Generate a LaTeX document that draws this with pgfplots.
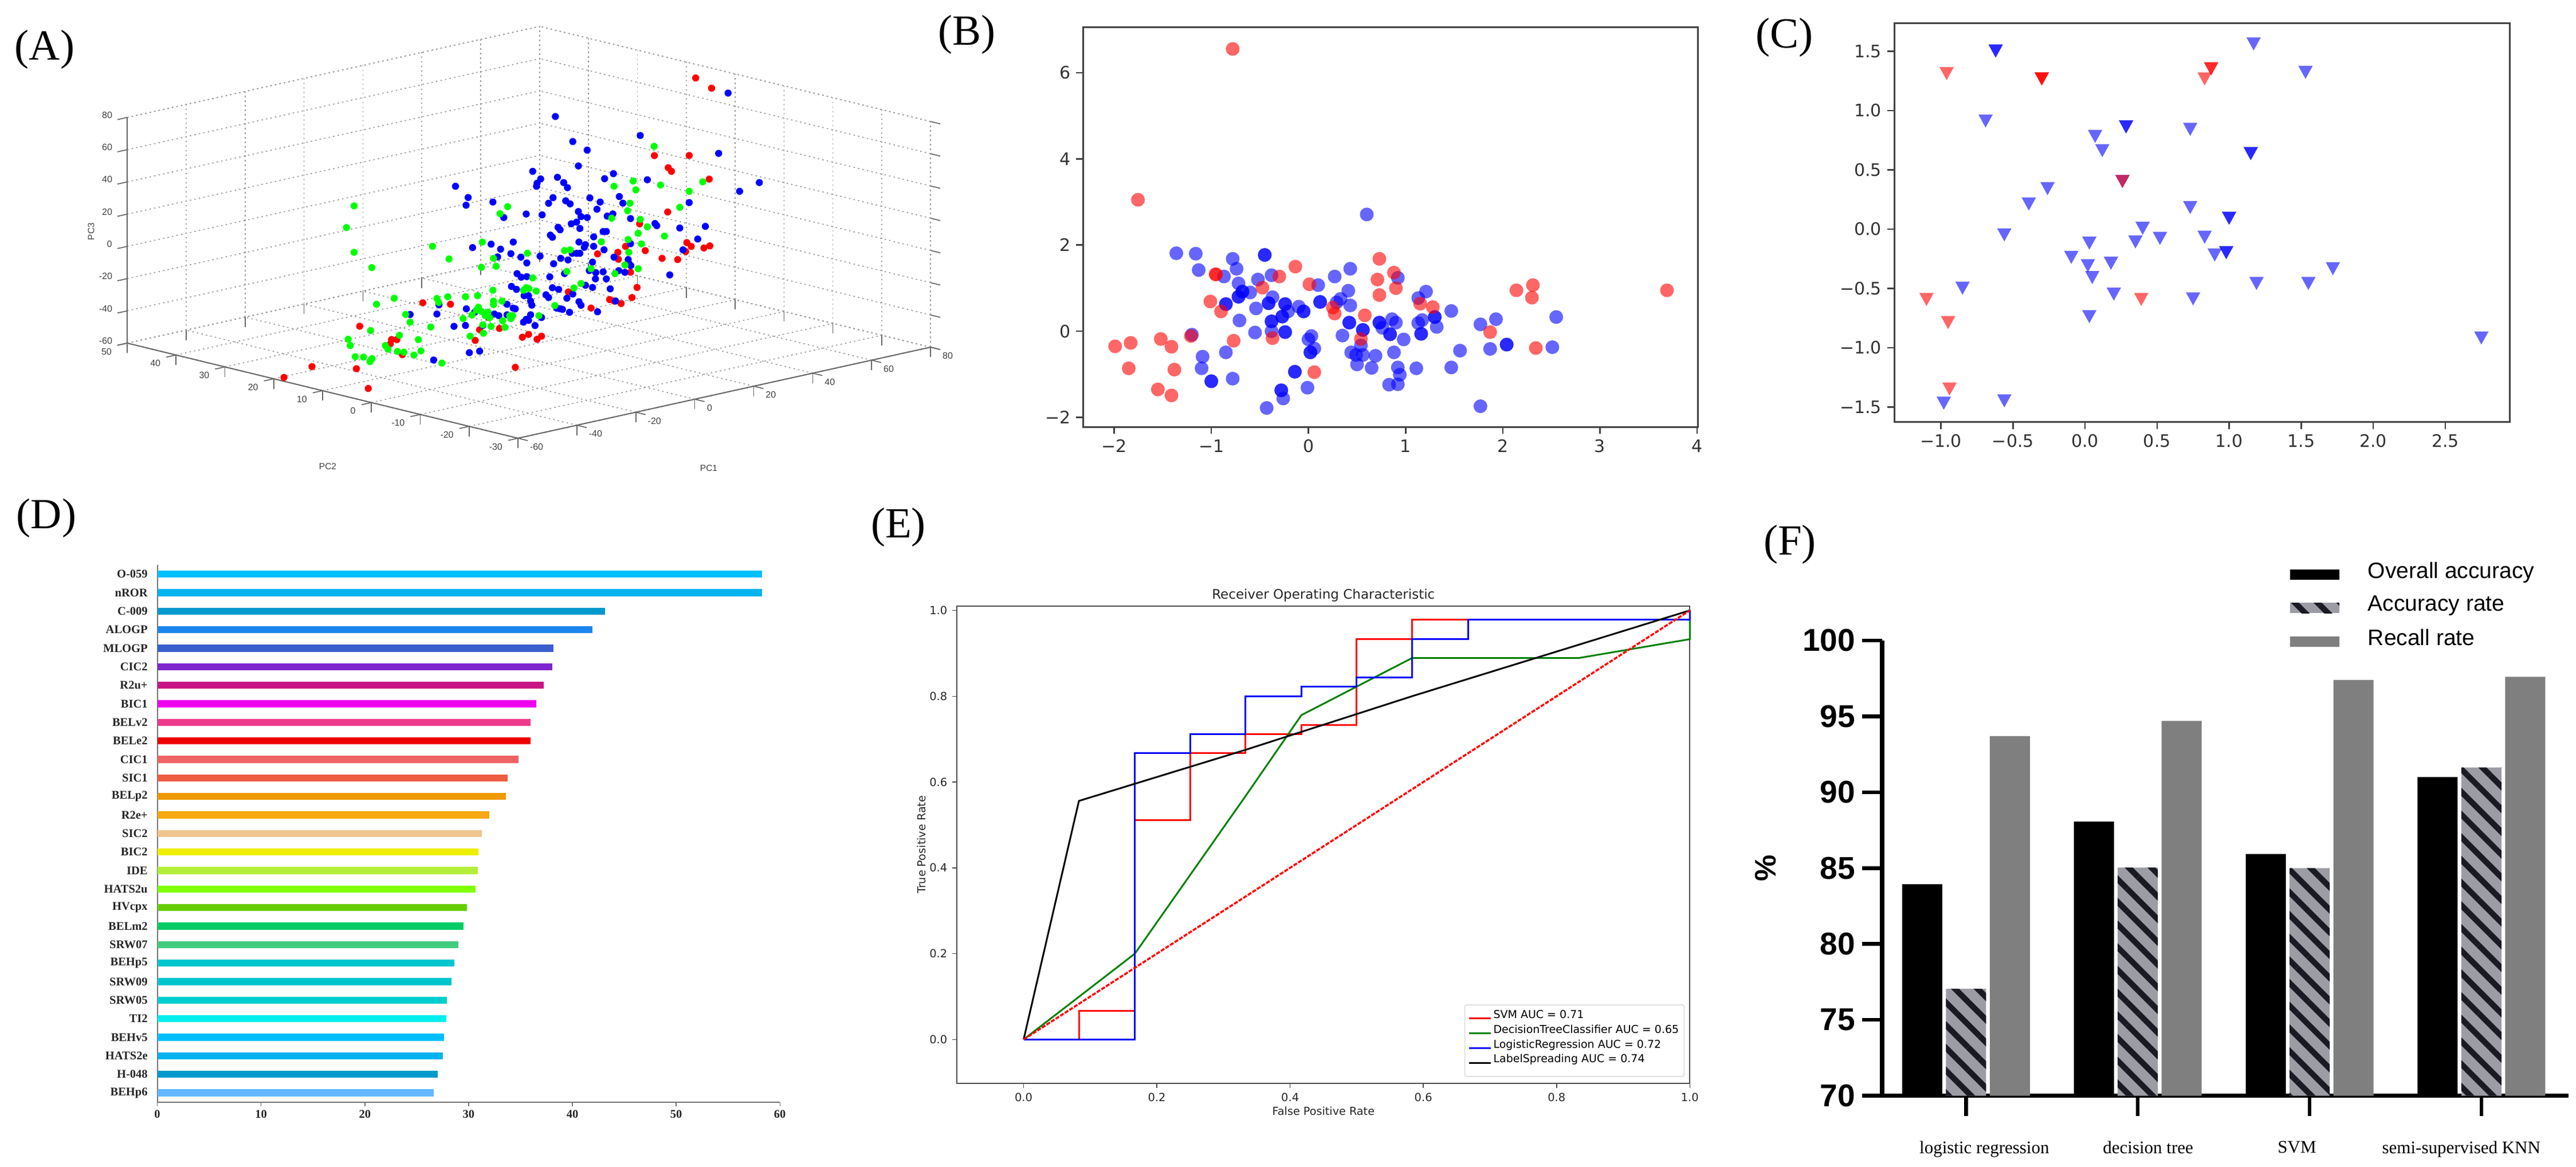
\documentclass[border=0pt]{standalone}
\usepackage{fontspec}
\usepackage{pgfplots}
\pgfplotsset{compat=1.18}
\usetikzlibrary{patterns.meta}
\setmainfont{Liberation Serif}
\newfontfamily\dv{DejaVu Sans}
\newfontfamily\ar{Liberation Sans}
\newfontfamily\tm{Liberation Serif}
\newcommand\fs[1]{\fontsize{#1}{#1}\selectfont}
% 1 px of the reference = 0.1pt here
\pgfplotsset{
  every axis/.append style={/pgf/number format/assume math mode=true},
  mplframe/.style={
    scale only axis, anchor=south west, clip=false,
    axis line style={line width=0.3pt, color=black!75},
    tick style={line width=0.25pt, color=black!75},
    major tick length=1.2pt, tick align=outside,
    xtick pos=bottom, ytick pos=left,
  },
  dots/.style={only marks, mark=*, mark size=1.2pt, color=#1,
    mark options={draw=#1, draw opacity=0, fill=#1, fill opacity=0.6}},
  tris/.style={only marks, mark=triangle*, mark size=1.45pt, color=#1,
    mark options={rotate=180, yscale=1.05, draw=#1, draw opacity=0, fill=#1, fill opacity=0.6}},
  dots3/.style={only marks, mark=*, mark size=0.62pt, color=#1,
    mark options={draw=#1, draw opacity=0, fill=#1}},
}
\newcommand\dbar[2]{\addplot[fill=#2, draw=none] coordinates {(#1)};}
\definecolor{hatchgrey}{HTML}{9C9CA5}
\definecolor{barstripe}{HTML}{1A1A24}
\definecolor{fgrey}{HTML}{7F7F7F}
\definecolor{da}{HTML}{63B8FF}\definecolor{db}{HTML}{009ACD}\definecolor{dc}{HTML}{00B2EE}
\definecolor{dd}{HTML}{00BFFF}\definecolor{de}{HTML}{00EEEE}\definecolor{df}{HTML}{00CDCD}
\definecolor{dg}{HTML}{00C5CD}\definecolor{dh}{HTML}{00C5CD}\definecolor{di}{HTML}{43CD80}
\definecolor{dj}{HTML}{00CD66}\definecolor{dk}{HTML}{66CD00}\definecolor{dl}{HTML}{7FFF00}
\definecolor{dm}{HTML}{B3EE3A}\definecolor{dn}{HTML}{EEEE00}\definecolor{do}{HTML}{EEC591}
\definecolor{dp}{HTML}{F5A80F}\definecolor{dq}{HTML}{EE9A00}\definecolor{dr}{HTML}{EE5C42}
\definecolor{ds}{HTML}{EE6363}\definecolor{dt}{HTML}{EE0000}\definecolor{du}{HTML}{EE3A8C}
\definecolor{dv}{HTML}{EE00EE}\definecolor{dw}{HTML}{C71585}\definecolor{dx}{HTML}{7F27CF}
\definecolor{dy}{HTML}{3A5FCD}\definecolor{dz}{HTML}{1C86EE}\definecolor{dA}{HTML}{009ACD}
\definecolor{dB}{HTML}{00B2EE}\definecolor{dC}{HTML}{00BFFF}
\begin{document}
\begin{tikzpicture}
\path[use as bounding box] (0,0) rectangle (449.6pt,203.6pt);

% (A)
\begin{axis}[
  at={(95.685pt,157.025pt)}, anchor=origin, clip=false,
  x={(0.5143pt,0.1136pt)}, y={(-0.8525pt,0.2075pt)}, z={(0pt,0.2814pt)},
  xmin=-60, xmax=80, ymin=-30, ymax=50, zmin=-60, zmax=80,
  xtick={-60,-40,...,80}, ytick={-30,-20,...,50}, ztick={-60,-40,...,80},
  grid=major, grid style={dash pattern=on 0.25pt off 0.55pt, color=black!40, line width=0.17pt},
  axis line style={dash pattern=on 0.25pt off 0.55pt, color=black!40, line width=0.17pt},
  tick style={solid, color=black!60, line width=0.17pt}, major tick length=1.75pt, tick align=outside,
  tick pos=left,
  tick label style={font=\ar\fs{1.6}, color=black!75, inner sep=0pt},
  xticklabel style={anchor=west, xshift=0.2pt, yshift=-1.1pt},
  yticklabel style={anchor=east, xshift=-0.8pt, yshift=-1.1pt},
  zticklabel style={anchor=east, xshift=-0.7pt},
]
\addplot3[forget plot, solid, no marks, color=black!60, line width=0.2pt] coordinates {(-60,50,80) (-60,50,-60) (-60,-30,-60) (80,-30,-60)};
\addplot3[dots3=red] coordinates {
(66.6,10,82.9)(72.0,10,74.4)(52.6,10,40.4)(64.4,10,35.7)(57.3,10,31.0)(58.4,10,28.3)(71.2,10,18.3)
(57.1,10,3.6)(47.6,10,0.1)(42.8,10,-12.0)(63.6,10,-18.0)(63.2,10,-23.4)(65.1,10,-21.0)(69.4,10,-23.7)
(71.4,10,-23.2)(40.2,10,-14.6)(33.3,10,-12.8)(49.5,10,-17.3)(40.4,10,-19.0)(55.2,10,-24.4)(60.5,10,-27.3)
(44.5,10,-28.7)(46.7,10,-39.0)(45.0,10,-44.6)(41.3,10,-46.8)(38.9,10,-44.3)(37.4,10,-42.8)(31.1,10,-45.5)
(23.4,10,-32.4)(-26.0,10,-19.2)(-16.6,10,-23.9)(-3.7,10,-37.3)(-6.7,10,-43.7)(0,10,-45.6)(-8.2,10,-49.7)
(7.8,10,-54.2)(9.9,10,-53.3)(12.8,10,-57.5)(14.3,10,-56.2)(-47.4,10,-25.1)(-34.8,10,-38.5)(-36.6,10,-37.7)
(-37.0,10,-40.2)(-32.9,10,-48.6)(-63.6,10,-43.6)(-73.1,10,-46.5)(-48.5,10,-51.0)(-44.5,10,-64.9)(5.4,10,-71.9)
};
\addplot3[dots3=blue] coordinates {
(77.6,10,69.1)(19.0,10,78.2)(47.8,10,54.8)(24.9,10,60.3)(29.8,10,53.0)(74.4,10,33.0)(26.8,10,44.4)(11.3,10,47.3)
(38.7,10,34.8)(14.0,10,41.5)(19.7,10,40.2)(35.7,10,32.9)(50.2,10,26.4)(12.8,10,39.3)(12.6,10,37.5)(21.8,10,36.1)
(23.1,10,32.4)(-14.9,10,48.6)(-10.6,10,39.9)(-11.3,10,35.4)(-2.2,10,33.7)(18.2,10,28.2)(16.7,10,25.3)(22.5,10,24.5)
(24.0,10,22.0)(30.7,10,23.0)(34.2,10,19.0)(40.7,10,19.8)(41.9,10,15.2)(33.1,10,15.0)(81.5,10,6.6)(88.2,10,9.3)
(64.4,10,6.5)(9.1,10,21.7)(1.5,10,22.6)(14.5,10,19.0)(26.8,10,16.1)(27.7,10,12.6)(29.8,10,11.2)(26.2,10,9.8)
(24.4,10,9.5)(36.6,10,9.3)(38.5,10,9.9)(44.5,10,4.6)(19.9,10,9.1)(20.6,10,7.3)(27.3,10,5.4)(17.3,10,5.3)(18.0,10,3.7)
(35.2,10,0.3)(36.3,10,-0.1)(32.0,10,-1.7)(52.8,10,-1.8)(53.4,10,-3.4)(61.2,10,-8.0)(69.9,10,-10.5)(67.3,10,-17.3)
(62.3,10,-22.0)(44.5,10,-11.0)(27.0,10,-2.9)(29.2,10,-5.4)(32.0,10,-7.6)(35.5,10,-11.1)(28.8,10,-6.9)(-2.8,10,7.8)
(4.7,10,6.1)(-9.1,10,8.2)(0.4,10,3.4)(3.9,10,-0.8)(-0.6,10,-1.0)(7.3,10,-4.3)(9.3,10,-8.7)(13.8,10,-6.3)(27.3,10,-10.0)
(24.7,10,-9.0)(26.2,10,-9.6)(38.9,10,-17.1)(43.7,10,-20.5)(20.8,10,-10.5)(23.3,10,-12.5)(18.4,10,-12.9)(43.9,10,-22.8)
(44.6,10,-24.6)(31.6,10,-17.2)(30.5,10,-22.0)(35.2,10,-24.7)(32.7,10,-24.2)(32.6,10,-28.0)(40.5,10,-26.1)(42.6,10,-28.0)
(22.1,10,-20.5)(17.1,10,-20.5)(36.3,10,-29.5)(57.8,10,-35.7)(6.0,10,-14.0)(7.4,10,-16.8)(9.3,10,-17.2)(5.8,10,-23.7)
(4.1,10,-21.2)(8.4,10,-28.7)(9.9,10,-29.3)(10.6,10,-32.9)(11.0,10,-35.6)(15.8,10,-31.1)(16.7,10,-33.2)(18.0,10,-27.6)
(20.1,10,-29.5)(29.2,10,-30.6)(31.6,10,-32.9)(37.6,10,-36.2)(22.9,10,-36.1)(24.9,10,-34.3)(27.0,10,-39.9)(27.7,10,-42.4)
(39.4,10,-44.5)(19.5,10,-40.9)(21.4,10,-42.4)(20.6,10,-41.7)(23.8,10,-45.2)(33.3,10,-48.7)(2.6,10,-31.7)(4.7,10,-34.9)
(5.4,10,-35.6)(-11.2,10,-28.9)(-8.4,10,-32.2)(-20.5,10,-22.7)(-21.2,10,-28.1)(-30.3,10,-24.7)(-1.7,10,-36.0)(-0.2,10,-37.6)
(2.6,10,-38.2)(14.3,10,-44.6)(10.6,10,-41.4)(9.1,10,-43.6)(8.2,10,-45.0)(9.9,10,-44.6)(12.1,10,-48.7)(-15.4,10,-38.1)
(-11.5,10,-39.1)(-5.6,10,-41.5)(-10.2,10,-56.5)(-6.7,10,-57.0)(-22.3,10,-56.2)
};
\addplot3[dots3=green] coordinates {
(52.5,10,46.2)(38.9,10,26.9)(45.4,10,27.5)(54.7,10,21.3)(46.3,10,21.7)(69.0,10,17.5)(64.4,10,13.5)(61.2,10,4.8)(44.3,10,14.2)
(43.5,10,9.9)(47.8,10,2.8)(38.1,10,7.4)(50.2,10,-2.8)(47.1,10,-5.6)(56.0,10,-10.9)(48.2,10,-12.6)(43.7,10,-8.1)(34.6,10,-5.8)
(43.9,10,-16.1)(24.0,10,-6.5)(22.1,10,-6.2)(9.5,10,-2.8)(-49.3,10,50.3)(-51.9,10,37.9)(-49.3,10,21.5)(-43.3,10,9.6)(-22.7,10,14.5)
(-17.1,10,4.4)(-5.8,10,10.3)(-2.0,10,-1.3)(-1.1,10,-6.6)(-6.1,10,-5.2)(2.8,10,28.8)(0.2,10,25.5)(42.6,10,-23.4)(47.1,10,-27.6)
(39.2,10,-27.4)(22.9,10,-19.5)(31.1,10,-21.1)(11.3,10,-18.8)(27.7,10,-28.9)(25.3,10,-30.7)(18.8,10,-39.0)(9.1,10,-24.0)(10.0,10,-24.9)
(8.2,10,-25.2)(12.5,10,-27.5)(-2.2,10,-21.0)(-7.4,10,-22.3)(-11.5,10,-21.3)(-17.5,10,-18.9)(-21.2,10,-18.5)(-20.6,10,-21.2)
(-35.7,10,-12.5)(-41.7,10,-13.8)(-2.0,10,-27.8)(0.9,10,-29.0)(-2.0,10,-30.0)(-7.1,10,-29.6)(-7.8,10,-31.1)(-6.1,10,-32.6)(-3.9,10,-34.0)
(-12.3,10,-34.5)(-9.3,10,-33.5)(-4.8,10,-35.7)(-3.3,10,-37.6)(1.1,10,-41.3)(3.5,10,-39.1)(4.5,10,-39.5)(3.9,10,-41.1)(-31.8,10,-24.1)
(-30.3,10,-29.5)(-23.3,10,-35.3)(-5.6,10,-41.1)(-5.4,10,-46.4)(-2.8,10,-43.2)(1.9,10,-45.7)(-9.9,10,-46.4)(-43.7,10,-29.3)(-33.9,10,-36.2)
(-27.5,10,-41.4)(-51.3,10,-31.6)(-50.6,10,-35.8)(-38.7,10,-40.6)(-37.8,10,-43.2)(-34.6,10,-45.9)(-32.4,10,-47.3)(-29.0,10,-50.4)
(-26.6,10,-48.8)(-48.9,10,-43.4)(-46.1,10,-44.8)(-43.2,10,-46.9)(-43.9,10,-48.5)(-19.5,10,-59.2)(13.4,10,-43.1)
};
\end{axis}
\node[font=\ar\fs{1.55}, color=black!75] at (57.2pt,122.2pt) {PC2};
\node[font=\ar\fs{1.55}, color=black!75] at (123.7pt,121.9pt) {PC1};
\node[font=\ar\fs{1.55}, color=black!75, rotate=90] at (15.9pt,163.2pt) {PC3};

% (B)
\begin{axis}[mplframe,
  at={(189.03pt,129.08pt)}, width=107.34pt, height=69.74pt,
  xmin=-2.32, xmax=4.01, ymin=-2.22, ymax=7.05,
  xtick={-2,-1,0,1,2,3,4}, xticklabels={−2,−1,0,1,2,3,4},
  ytick={-2,0,2,4,6}, yticklabels={−2,0,2,4,6},
  tick label style={font=\dv\fs{3.0}, color=black!80, inner sep=0.8pt},
]
\addplot[dots=blue] coordinates {
(-1.36,1.81)(-1.16,1.80)(-1.13,1.42)(-0.78,1.68)(-0.74,1.45)(-0.45,1.77)(-0.45,1.77)(-0.87,1.27)(-0.72,1.11)(-0.52,1.20)
(-0.38,1.30)(-0.68,0.92)(-0.68,0.92)(-0.72,0.80)(-0.72,0.80)(-0.60,0.90)(-0.37,0.79)(-0.54,0.53)(-0.85,0.63)(-0.85,0.63)
(-0.41,0.65)(-0.41,0.65)(-0.38,0.23)(-0.38,0.23)(-0.24,0.63)(-0.24,0.63)(-0.21,0.46)(-0.27,0.34)(-0.27,0.34)(-0.71,0.25)
(-0.55,-0.03)(-0.38,0.00)(-0.24,-0.02)(-0.24,-0.02)(-0.10,0.57)(-0.05,0.46)(-0.05,0.46)(0.12,0.68)(0.12,0.68)(0.10,1.07)
(0.27,1.27)(0.43,1.45)(0.41,0.94)(0.33,0.75)(0.29,0.67)(0.43,0.60)(0.42,0.20)(0.42,0.20)(0.56,0.03)(0.56,0.03)(0.73,0.20)
(0.73,0.20)(0.76,0.08)(0.86,0.28)(0.90,0.20)(0.84,-0.07)(0.84,-0.07)(0.98,-0.19)(0.92,1.24)(1.13,0.77)(1.21,0.92)(1.30,0.33)
(1.30,0.33)(1.17,0.26)(1.13,0.19)(1.16,-0.06)(1.16,-0.06)(1.32,0.10)(1.47,0.47)(1.77,0.16)(1.93,0.28)(2.55,0.33)(-1.20,-0.08)
(-1.09,-0.59)(-1.10,-0.86)(-1.00,-1.16)(-1.00,-1.16)(-0.85,-0.49)(-0.78,-1.10)(0.00,-0.19)(0.03,-0.11)(0.06,-0.40)(0.02,-0.49)
(0.02,-0.49)(0.35,-0.10)(0.54,-0.33)(0.44,-0.49)(0.49,-0.55)(0.56,-0.55)(0.69,-0.57)(0.88,-0.49)(0.50,-0.77)(0.65,-0.85)
(0.92,-0.84)(0.94,-1.01)(0.92,-1.23)(0.83,-1.24)(1.11,-0.86)(1.47,-0.84)(1.56,-0.45)(1.87,-0.41)(2.04,-0.31)(2.04,-0.31)
(2.51,-0.37)(-0.14,-0.94)(-0.14,-0.94)(-0.01,-1.31)(-0.28,-1.37)(-0.28,-1.37)(-0.26,-1.56)(-0.43,-1.78)(1.77,-1.74)(0.60,2.71)
};
\addplot[dots=red] coordinates {
(-0.78,6.55)(-1.755,3.05)(-0.954,1.32)(-0.954,1.32)(-0.135,1.50)(-0.30,1.27)(-0.474,1.01)(0.01,1.09)(-1.01,0.69)(-0.90,0.46)
(-1.21,-0.11)(-0.77,-0.22)(-0.37,-0.16)(-1.99,-0.35)(-1.83,-0.27)(-1.52,-0.18)(-1.41,-0.36)(-1.85,-0.86)(-1.38,-0.89)(-1.55,-1.35)
(-1.41,-1.49)(0.06,-0.95)(0.25,0.55)(0.27,0.41)(0.58,0.37)(0.54,-0.18)(0.73,1.68)(0.88,1.36)(0.71,1.20)(0.90,1.00)(0.73,0.84)
(1.15,0.64)(1.28,0.56)(1.87,-0.02)(2.14,0.95)(2.31,1.07)(2.30,0.78)(2.34,-0.39)(3.69,0.95)
};
\end{axis}

% (C)
\begin{axis}[mplframe,
  at={(330.6pt,129.93pt)}, width=107.45pt, height=69.63pt,
  xmin=-1.324, xmax=2.948, ymin=-1.627, ymax=1.737,
  xtick={-1,-0.5,0,0.5,1,1.5,2,2.5}, xticklabels={−1.0,−0.5,0.0,0.5,1.0,1.5,2.0,2.5},
  ytick={-1.5,-1,-0.5,0,0.5,1,1.5}, yticklabels={−1.5,−1.0,−0.5,0.0,0.5,1.0,1.5},
  tick label style={font=\dv\fs{3.0}, color=black!80, inner sep=0.8pt},
]
\addplot[tris=blue] coordinates {
(1.17,1.58)(1.53,1.34)(-0.62,1.52)(-0.62,1.52)(-0.69,0.93)(0.285,0.88)(0.285,0.88)(0.73,0.86)(0.07,0.80)(0.12,0.68)(1.15,0.655)
(1.15,0.655)(-0.26,0.36)(-0.39,0.23)(-0.56,-0.03)(0.73,0.20)(1.00,0.11)(1.00,0.11)(0.40,0.025)(0.52,-0.06)(0.83,-0.05)(0.35,-0.09)
(0.03,-0.10)(-0.095,-0.22)(0.02,-0.29)(0.18,-0.27)(0.05,-0.39)(0.90,-0.20)(0.98,-0.18)(0.98,-0.18)(1.72,-0.315)(1.19,-0.44)
(1.55,-0.44)(-0.85,-0.48)(0.20,-0.53)(0.75,-0.57)(0.03,-0.72)(2.75,-0.90)(-0.56,-1.43)(-0.98,-1.45)(0.26,0.42)
};
\addplot[tris=red] coordinates {
(-0.96,1.33)(-0.30,1.285)(-0.30,1.285)(-0.30,1.285)(0.875,1.37)(0.875,1.37)(0.83,1.285)(0.26,0.42)(-1.10,-0.575)(0.39,-0.575)(-0.95,-0.77)(-0.94,-1.33)
};
\end{axis}

% (D)
\begin{axis}[
  scale only axis, anchor=south west,
  at={(27.46pt,11.24pt)}, width=108.67pt, height=93.76pt,
  xbar, bar width=1.24pt, bar shift=0pt,
  xmin=0, xmax=60, ymin=-0.5, ymax=28.5,
  axis x line*=bottom, axis y line*=left,
  axis line style={-, color=black!55, line width=0.2pt},
  tick style={color=black!55, line width=0.15pt},
  tick align=outside,
  xtick={0,10,...,60},
  ytick={0,1,...,28},
  yticklabels={BEHp6,H-048,HATS2e,BEHv5,TI2,SRW05,SRW09,BEHp5,SRW07,BELm2,HVcpx,HATS2u,IDE,BIC2,SIC2,R2e+,BELp2,SIC1,CIC1,BELe2,BELv2,BIC1,R2u+,CIC2,MLOGP,ALOGP,C-009,nROR,O-059},
  major tick length=0.7pt,
  ytick style={draw=none},
  minor ytick={-0.5,0.5,...,28.5},
  minor tick length=0.7pt,
  minor tick style={color=black!55, line width=0.15pt},
  tick label style={font=\tm\bfseries\fs{2.05}, color=black!85, inner sep=0.5pt},
  yticklabel style={xshift=-0.3pt},
]
\dbar{26.62,0}{da}
\dbar{27.05,1}{db}
\dbar{27.52,2}{dc}
\dbar{27.63,3}{dd}
\dbar{27.84,4}{de}
\dbar{27.89,5}{df}
\dbar{28.37,6}{dg}
\dbar{28.63,7}{dh}
\dbar{29.00,8}{di}
\dbar{29.48,9}{dj}
\dbar{29.85,10}{dk}
\dbar{30.69,11}{dl}
\dbar{30.90,12}{dm}
\dbar{30.96,13}{dn}
\dbar{31.27,14}{do}
\dbar{32.01,15}{dp}
\dbar{33.60,16}{dq}
\dbar{33.76,17}{dr}
\dbar{34.81,18}{ds}
\dbar{35.97,19}{dt}
\dbar{35.97,20}{du}
\dbar{36.50,21}{dv}
\dbar{37.24,22}{dw}
\dbar{38.09,23}{dx}
\dbar{38.19,24}{dy}
\dbar{41.94,25}{dz}
\dbar{43.16,26}{dA}
\dbar{58.27,27}{dB}
\dbar{58.27,28}{dC}
\end{axis}

% (E)
\begin{axis}[mplframe,
  at={(167.03pt,14.53pt)}, width=127.9pt, height=83.27pt,
  xmin=-0.1, xmax=1, ymin=-0.102, ymax=1.01,
  major tick length=0.8pt,
  axis line style={line width=0.2pt, color=black!70},
  tick style={line width=0.15pt, color=black!70},
  xtick={0,0.2,0.4,0.6,0.8,1}, xticklabels={0.0,0.2,0.4,0.6,0.8,1.0},
  ytick={0,0.2,0.4,0.6,0.8,1}, yticklabels={0.0,0.2,0.4,0.6,0.8,1.0},
  tick label style={font=\dv\fs{1.95}, color=black!85, inner sep=0.7pt},
  title={Receiver Operating Characteristic},
  every axis title shift=0pt,
  title style={font=\dv\fs{2.3}, yshift=-2.8pt, color=black!85},
  xlabel={False Positive Rate}, ylabel={True Positive Rate},
  label style={font=\dv\fs{1.92}, color=black!85},
  xlabel style={yshift=3.3pt}, ylabel style={yshift=-3.6pt},
  legend style={at={(0.9927,0.0132)}, anchor=south east, draw=black!15, rounded corners=0.3pt,
    line width=0.15pt, font=\dv\fs{1.9}, inner sep=0.6pt, row sep=-0.95pt, cells={anchor=west},
    nodes={inner sep=0.3pt}},
  legend image code/.code={\draw[#1] (0pt,0pt) -- (3.8pt,0pt);},
  every axis plot/.append style={line width=0.3pt, no marks},
]
\addplot[color=red] coordinates {(0,0)(0.083,0)(0.083,0.067)(0.167,0.067)(0.167,0.511)(0.25,0.511)(0.25,0.667)(0.333,0.667)(0.333,0.711)(0.417,0.711)(0.417,0.733)(0.5,0.733)(0.5,0.933)(0.583,0.933)(0.583,0.978)(0.667,0.978)(1,0.978)(1,1)};
\addlegendentry{SVM AUC = 0.71}
\addplot[color=green!50!black] coordinates {(0,0)(0.167,0.2)(0.333,0.567)(0.417,0.756)(0.583,0.889)(0.833,0.889)(1,0.933)(1,1)};
\addlegendentry{DecisionTreeClassifier AUC = 0.65}
\addplot[color=blue] coordinates {(0,0)(0.167,0)(0.167,0.667)(0.25,0.667)(0.25,0.711)(0.333,0.711)(0.333,0.8)(0.417,0.8)(0.417,0.822)(0.5,0.822)(0.5,0.844)(0.583,0.844)(0.583,0.933)(0.667,0.933)(0.667,0.978)(1,0.978)(1,1)};
\addlegendentry{LogisticRegression AUC = 0.72}
\addplot[color=black] coordinates {(0,0)(0.083,0.556)(0.333,0.675)(0.583,0.8)(1,1)};
\addlegendentry{LabelSpreading AUC = 0.74}
\addplot[forget plot, color=red, line width=0.35pt, dash pattern=on 0.7pt off 0.25pt] coordinates {(0,0)(1,1)};
\end{axis}

% (F)
\begin{axis}[
  scale only axis, anchor=south west,
  at={(328.5pt,12.34pt)}, width=119.78pt, height=79.47pt,
  ybar=0.65pt, bar width=7pt,
  xmin=-0.488, xmax=3.507, ymin=70, ymax=100,
  axis x line*=bottom, axis y line*=left,
  axis line style={-, line width=0.75pt},
  tick style={line width=0.65pt, color=black},
  tick align=outside,
  major tick length=3.5pt,
  xtick={0,1,2,3},
  xticklabels={\kern6.4pt logistic regression,\kern3.6pt decision tree,SVM\kern4.4pt,semi-supervised KNN\kern7pt},
  xticklabel style={font=\tm\fs{3.1}, yshift=-0.9pt},
  ytick={70,75,...,100},
  yticklabel style={font=\ar\bfseries\fs{5.5}, inner sep=1pt},
  ylabel={\%}, ylabel style={font=\ar\bfseries\fs{5.2}, yshift=0.1pt},
  legend style={at={(0.5927,1.18)}, anchor=north west, draw=none, fill=none, font=\ar\fs{3.9},
    inner sep=0pt, row sep=0.8pt, cells={anchor=west}, nodes={inner sep=0.4pt},
    /tikz/every odd column/.append style={column sep=4.6pt}},
  legend image code/.code={\fill[#1] (0pt,-0.9pt) rectangle (8.6pt,0.9pt);},
]
\addplot[fill=black, draw=none] coordinates {(0,83.94)(1,88.06)(2,85.93)(3,91.0)};
\addlegendentry{Overall accuracy}
\addplot[fill=hatchgrey, draw=none, postaction={pattern={Lines[angle=-45,distance=2.8pt,line width=1pt]}, pattern color=barstripe}] coordinates {(0,77.05)(1,85.03)(2,85.0)(3,91.63)};
\addlegendentry{Accuracy rate}
\addplot[fill=fgrey, draw=none] coordinates {(0,93.7)(1,94.7)(2,97.4)(3,97.6)};
\addlegendentry{Recall rate}
\end{axis}

% panel letters
\node[font=\tm\fs{7.5}] at (7.8pt,195.0pt) {(A)};
\node[font=\tm\fs{7.5}] at (168.7pt,197.6pt) {(B)};
\node[font=\tm\fs{7.5}] at (311.4pt,197.1pt) {(C)};
\node[font=\tm\fs{7.5}] at (8.1pt,113.2pt) {(D)};
\node[font=\tm\fs{7.5}] at (156.8pt,111.6pt) {(E)};
\node[font=\tm\fs{7.5}] at (312.4pt,108.6pt) {(F)};
\end{tikzpicture}
\end{document}
